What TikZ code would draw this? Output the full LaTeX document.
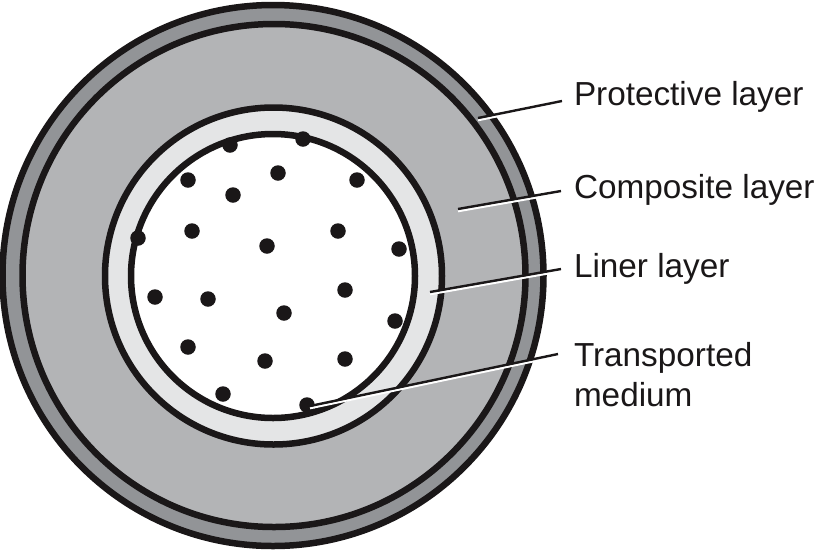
\documentclass[tikz,border=0pt]{standalone}
\usepackage{fontspec}
\setmainfont{Liberation Sans}
\definecolor{protc}{HTML}{929497}
\definecolor{compc}{HTML}{B3B4B6}
\definecolor{linerc}{HTML}{E4E5E6}
\definecolor{inkc}{HTML}{1A1718}
\tikzset{
  ring/.style={circle,draw=inkc,line width=6.5pt,inner sep=0pt,outer sep=0pt},
  speck/.style={circle,fill=inkc,draw=none,inner sep=0pt,minimum size=15.5pt,outer sep=0pt},
  lab/.style={anchor=west,inner sep=0pt,outer sep=0pt,text=inkc,font=\fontsize{33.3}{40}\selectfont,align=left},
  halo/.style={draw=white,line width=2.2pt},
  leader/.style={draw=inkc,line width=2.4pt}
}
\begin{document}
\begin{tikzpicture}[x=1pt,y=-1pt]
\useasboundingbox (0,0) rectangle (817,550);
\node[ring,fill=protc,minimum size=541pt] (outer) at (273,275.5) {};
\node[ring,fill=compc,minimum size=503pt] (comp) at (274,275.5) {};
\node[ring,fill=linerc,minimum size=337pt] (liner) at (273.5,276) {};
\node[ring,fill=white,minimum size=284pt] (core) at (273,276) {};
\foreach \n/\x/\y in {a/303/139,b/230/145,c/278/173,d/188/180,e/357/180,f/233/195,g/192/231,h/338/231,i/138/238,j/267/246,k/399/249,l/345/290,m/155/297,n/208/299,o/284/313,p/395/321,q/188/347,r/265/361,s/345/359,t/223/394,u/307/405}
  \node[speck] (\n) at (\x,\y) {};
\node[lab] (tprot) at (574,97) {Protective layer};
\node[lab] (tcomp) at (574,190) {Composite layer};
\node[lab] (tliner) at (574,269) {Liner layer};
\node[lab] (tmed) at (574,375) {Transported\\medium};
\coordinate (eprot) at (478,118);
\coordinate (ecomp) at (458,209);
\coordinate (eliner) at (430,292);
\coordinate (emed) at (310,406);
\coordinate (sprot) at (562,101);
\coordinate (scomp) at (561,191);
\coordinate (sliner) at (561,269);
\coordinate (smed) at (558,354);
\foreach \s/\e in {sprot/eprot,scomp/ecomp,sliner/eliner,smed/emed}{
  \draw[halo] ([yshift=-2.2pt]\s) -- ([yshift=-2.2pt]\e);
  \draw[leader] (\s) -- (\e);
}
\end{tikzpicture}
\end{document}
